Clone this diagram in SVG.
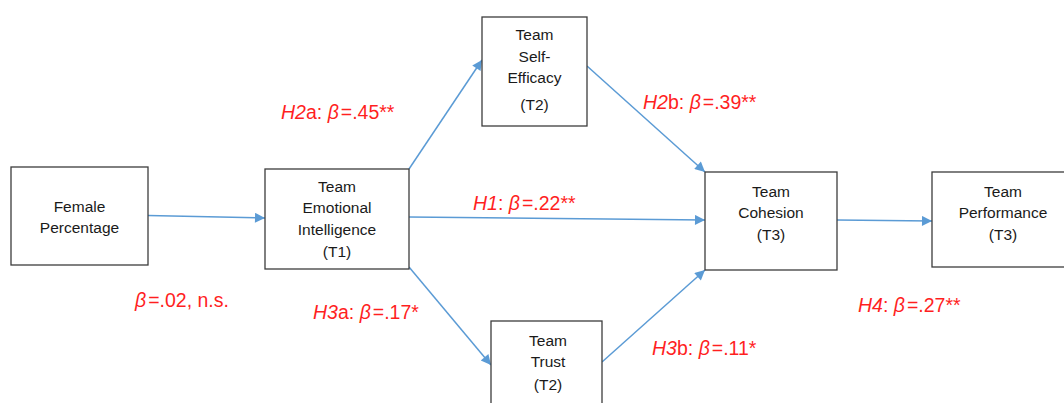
<svg xmlns="http://www.w3.org/2000/svg" width="1064" height="403" viewBox="0 0 1064 403">
<style>
.box{fill:#fff;stroke:#3c3c3c;stroke-width:1.3}
.nt{font-family:"Liberation Sans",Arial,sans-serif;font-size:15.5px;fill:#1a1a1a;text-anchor:middle}
.lb{font-family:"Liberation Sans",Arial,sans-serif;font-size:19.5px;fill:#ff1f1f}
.it{font-style:italic}
.cn{stroke:#5b9bd5;stroke-width:1.5;fill:none;marker-end:url(#ah)}
</style>
<defs>
<marker id="ah" viewBox="0 0 10 10" refX="10" refY="5" markerWidth="13" markerHeight="10" markerUnits="userSpaceOnUse" orient="auto">
<path d="M0,0 L10,5 L0,10 z" fill="#5b9bd5"/>
</marker>
</defs>
<rect width="1064" height="403" fill="#fff"/>
<g id="connectors">
<path class="cn" d="M148,215.5 L265,218"/>
<path class="cn" d="M409,169 L482,60"/>
<path class="cn" d="M587,66 L705,172"/>
<path class="cn" d="M409,217 L705,220"/>
<path class="cn" d="M409,267 L491,365"/>
<path class="cn" d="M602,362 L705,270"/>
<path class="cn" d="M837,220 L932,221"/>
</g>
<g id="female">
<rect class="box" x="11" y="167" width="137" height="98"/>
<text class="nt" x="79.5" y="212">Female</text>
<text class="nt" x="79.5" y="233">Percentage</text>
</g>
<g id="tei">
<rect class="box" x="265" y="169" width="144" height="100"/>
<text class="nt" x="337" y="192">Team</text>
<text class="nt" x="337" y="213">Emotional</text>
<text class="nt" x="337" y="235">Intelligence</text>
<text class="nt" x="337" y="257">(T1)</text>
</g>
<g id="selfeff">
<rect class="box" x="482" y="17" width="105" height="109"/>
<text class="nt" x="534.5" y="40">Team</text>
<text class="nt" x="534.5" y="62">Self-</text>
<text class="nt" x="534.5" y="83">Efficacy</text>
<text class="nt" x="534.5" y="110">(T2)</text>
</g>
<g id="trust">
<rect class="box" x="491" y="321" width="111" height="90"/>
<text class="nt" x="548" y="346">Team</text>
<text class="nt" x="548" y="367">Trust</text>
<text class="nt" x="548" y="390">(T2)</text>
</g>
<g id="cohesion">
<rect class="box" x="705" y="172" width="132" height="98"/>
<text class="nt" x="771" y="197">Team</text>
<text class="nt" x="771" y="218">Cohesion</text>
<text class="nt" x="771" y="240">(T3)</text>
</g>
<g id="performance">
<rect class="box" x="932" y="172" width="140" height="95"/>
<text class="nt" x="1003" y="197">Team</text>
<text class="nt" x="1003" y="218">Performance</text>
<text class="nt" x="1003" y="240">(T3)</text>
</g>
<g id="labels">
<text class="lb" x="281" y="119"><tspan class="it">H2</tspan>a: <tspan class="it">β</tspan><tspan dx="2">=.45**</tspan></text>
<text class="lb" x="643" y="109"><tspan class="it">H2</tspan>b: <tspan class="it">β</tspan><tspan dx="2">=.39**</tspan></text>
<text class="lb" x="473" y="210"><tspan class="it">H1</tspan>: <tspan class="it">β</tspan><tspan dx="2">=.22**</tspan></text>
<text class="lb" x="135" y="307"><tspan class="it">β</tspan><tspan dx="2">=.02, n.s.</tspan></text>
<text class="lb" x="313" y="319"><tspan class="it">H3</tspan>a: <tspan class="it">β</tspan><tspan dx="2">=.17*</tspan></text>
<text class="lb" x="652" y="355"><tspan class="it">H3</tspan>b: <tspan class="it">β</tspan><tspan dx="2">=.11*</tspan></text>
<text class="lb" x="858" y="312"><tspan class="it">H4</tspan>: <tspan class="it">β</tspan><tspan dx="2">=.27**</tspan></text>
</g>
</svg>
